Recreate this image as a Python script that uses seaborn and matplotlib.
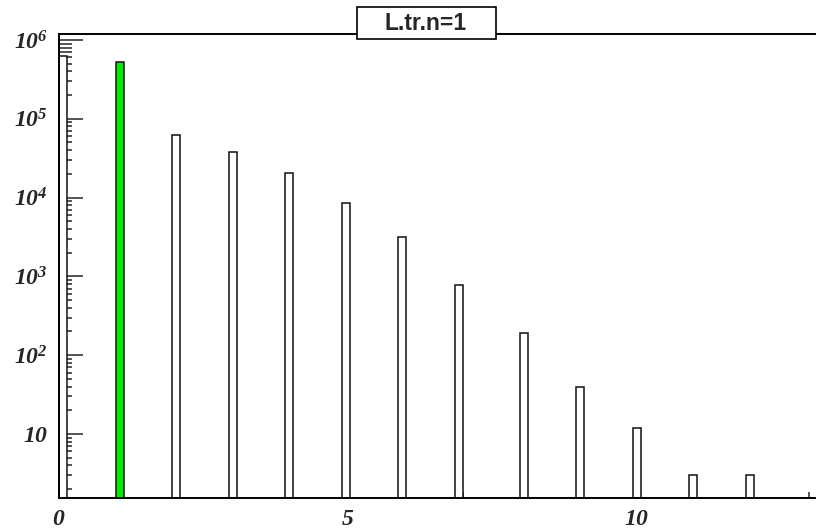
import matplotlib
matplotlib.use("Agg")
import matplotlib.pyplot as plt
import numpy as np
import pandas as pd
import seaborn as sns
from matplotlib.ticker import FixedLocator, MultipleLocator, LogLocator, NullFormatter, FuncFormatter

# values (one entry per multiplicity bin)
multiplicity = [0, 1, 2, 3, 4, 5, 6, 7, 8, 9, 10, 11, 12]
entries = [627000, 526000, 62300, 38300, 20300, 8610, 3130, 785, 190, 40, 12, 3, 3]
highlight_n = 1
title = "L.tr.n=1"
x_major = [0, 5, 10]
x_labels = ["0", "5", "10"]

W, H, DPI = 816, 529, 100

sns.set_style("white")
plt.rcParams["font.family"] = ["Liberation Serif", "DejaVu Serif"]
plt.rcParams["mathtext.fontset"] = "custom"
for k in ("rm", "it", "bf"):
    plt.rcParams[f"mathtext.{k}"] = "Liberation Serif:bold:italic"

df = pd.DataFrame({"n": multiplicity, "count": entries})
df["sel"] = df["n"] == highlight_n

fig = plt.figure(figsize=(W / DPI, H / DPI), dpi=DPI)
# frame runs past the right edge of the picture, as in the reference crop
ax = fig.add_axes([59 / W, 31 / H, (867 - 59) / W, (498 - 34) / H])

# 100 bins over [0, 14], like the original histogram
hist_kw = dict(x="n", weights="count", bins=100, binrange=(0, 14),
               edgecolor="#111111", linewidth=1.1, alpha=1, ax=ax)
sns.histplot(data=df[~df["sel"]], color="white", **hist_kw)
sns.histplot(data=df[df["sel"]], color="#00ee00", **hist_kw)

ax.set_yscale("log")
ax.set_xlim(0, 14)
ax.set_ylim(1.54, 1.19e6)
ax.set_xlabel("")
ax.set_ylabel("")

ax.xaxis.set_major_locator(FixedLocator(x_major))
ax.xaxis.set_major_formatter(
    FuncFormatter(lambda v, p: f"${x_labels[x_major.index(int(round(v)))]}$"))
ax.xaxis.set_minor_locator(MultipleLocator(1))


def ylab(v, pos):
    e = int(round(np.log10(v)))
    return "$10$" if e == 1 else f"$10^{{{e}}}$"


ax.yaxis.set_major_locator(LogLocator(base=10))
ax.yaxis.set_major_formatter(FuncFormatter(ylab))
ax.yaxis.set_minor_locator(LogLocator(base=10, subs=np.arange(2, 10)))
ax.yaxis.set_minor_formatter(NullFormatter())

ax.tick_params(axis="x", which="major", direction="in", length=8.6, width=1.1, pad=8, labelsize=17,
               top=False, bottom=True)
ax.tick_params(axis="x", which="minor", direction="in", length=4.3, width=1.1, top=False, bottom=True)
ax.tick_params(axis="y", which="major", direction="in", length=17, width=1.1, pad=8, labelsize=17,
               left=True, right=False)
ax.tick_params(axis="y", which="minor", direction="in", length=9.4, width=1.1, left=True, right=False)

for side in ("left", "bottom", "top"):
    ax.spines[side].set_linewidth(1.4)
    ax.spines[side].set_color("black")
ax.spines["right"].set_visible(False)

# title box sits on the top frame line
fig.patches.append(plt.Rectangle((357 / W, 1 - 39 / H), (496 - 357) / W, 32 / H,
                                 transform=fig.transFigure, facecolor="white", edgecolor="black",
                                 linewidth=1.2, zorder=5))
fig.text(426 / W, 1 - 23 / H, title, ha="center", va="center", fontsize=16.5, fontweight="bold",
         family=["Liberation Sans", "DejaVu Sans"], zorder=6)

fig.savefig("out.png", dpi=DPI)
